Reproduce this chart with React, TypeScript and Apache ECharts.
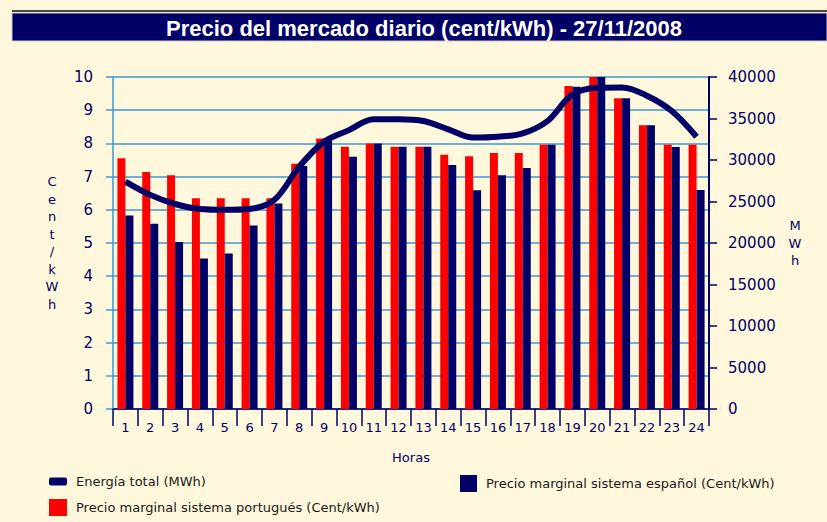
import React, { useEffect, useRef } from "react";
import * as echarts from "echarts";

const horas = ["1","2","3","4","5","6","7","8","9","10","11","12","13","14","15","16","17","18","19","20","21","22","23","24"];
const precioPortugues = [7.55, 7.14, 7.04, 6.35, 6.35, 6.35, 6.35, 7.39, 8.15, 7.9, 8.0, 7.9, 7.9, 7.66, 7.61, 7.71, 7.71, 7.96, 9.73, 10.0, 9.36, 8.55, 7.96, 7.96];
const precioEspanol = [5.83, 5.58, 5.03, 4.53, 4.68, 5.53, 6.19, 7.32, 8.15, 7.6, 8.0, 7.9, 7.9, 7.35, 6.59, 7.04, 7.26, 7.96, 9.71, 10.0, 9.36, 8.55, 7.89, 6.6];
const energiaTotal = [27400, 25800, 24700, 24100, 24000, 24100, 25200, 29200, 32200, 33600, 34900, 34900, 34700, 33700, 32700, 32800, 33200, 34700, 37900, 38700, 38750, 37750, 35900, 32800];

const TITLE = "Precio del mercado diario (cent/kWh) - 27/11/2008";
const NAME_ENERGIA = "Energía total (MWh)";
const NAME_ES = "Precio marginal sistema español (Cent/kWh)";
const NAME_PT = "Precio marginal sistema portugués (Cent/kWh)";

const NAVY = "#000066";
const RED = "#ff0000";
const BG = "#fff8dc";
const GRID = "#3a9ad6";
const FONT = "'DejaVu Sans', sans-serif";

export default function App() {
  const ref = useRef<HTMLDivElement>(null);
  useEffect(() => {
    document.body.style.margin = "0";
    document.body.style.background = BG;
    const chart = echarts.init(ref.current!, null, { renderer: "svg" });
    const legendText = { color: "#1a1a1a", fontFamily: FONT, fontSize: 13, padding: [0, 0, 0, 4] };
    chart.setOption({
      animation: false,
      backgroundColor: BG,
      graphic: [
        { type: "rect", shape: { x: 12, y: 10, width: 815, height: 2 }, style: { fill: "#4a4a40" } },
        { type: "rect", shape: { x: 12, y: 13, width: 815, height: 28 }, style: { fill: NAVY, stroke: "#c8c8d0", lineWidth: 1 } },
        {
          type: "text",
          x: 424,
          y: 28,
          style: {
            text: TITLE,
            fill: "#ffffff",
            font: "bold 22px 'Liberation Sans Narrow', 'Liberation Sans', sans-serif",
            textAlign: "center",
            textVerticalAlign: "middle",
          },
        },
      ],
      grid: { left: 113, right: 118, top: 77, bottom: 113 },
      legend: [
        { data: [NAME_ENERGIA], left: 44, top: 470, itemWidth: 18, itemHeight: 8, icon: "roundRect", textStyle: legendText, selectedMode: false },
        { data: [NAME_ES], left: 455, top: 470, itemWidth: 17, itemHeight: 17, icon: "rect", textStyle: legendText, selectedMode: false },
        { data: [NAME_PT], left: 44, top: 494, itemWidth: 18, itemHeight: 17, icon: "rect", textStyle: legendText, selectedMode: false },
      ],
      xAxis: {
        type: "category",
        data: horas,
        boundaryGap: true,
        name: "Horas",
        nameLocation: "middle",
        nameGap: 48,
        nameTextStyle: { color: NAVY, fontFamily: FONT, fontSize: 13, verticalAlign: "middle" },
        axisLine: { lineStyle: { color: NAVY, width: 1.5 } },
        axisTick: { show: true, length: 17, lineStyle: { color: NAVY, width: 1.5 } },
        axisLabel: { color: NAVY, fontFamily: FONT, fontSize: 13, margin: 12, interval: 0 },
        splitLine: { show: false },
      },
      yAxis: [
        {
          type: "value",
          min: 0,
          max: 10,
          interval: 1,
          name: "C\ne\nn\nt\n/\nk\nW\nh",
          nameLocation: "middle",
          nameRotate: 0,
          nameGap: 61,
          nameTextStyle: { color: NAVY, fontFamily: FONT, fontSize: 13, lineHeight: 17.5, align: "center", verticalAlign: "middle" },
          axisLine: { show: true, lineStyle: { color: GRID, width: 1.5 } },
          axisTick: { show: true, length: 7, lineStyle: { color: GRID, width: 1.5 } },
          axisLabel: { color: NAVY, fontFamily: FONT, fontSize: 15, margin: 20 },
          splitLine: { show: true, lineStyle: { color: GRID, width: 1.5 } },
        },
        {
          type: "value",
          min: 0,
          max: 40000,
          interval: 5000,
          position: "right",
          name: "M\nW\nh",
          nameLocation: "middle",
          nameRotate: 0,
          nameGap: 86,
          nameTextStyle: { color: NAVY, fontFamily: FONT, fontSize: 13, lineHeight: 17.5, align: "center", verticalAlign: "middle" },
          axisLine: { show: true, lineStyle: { color: NAVY, width: 2 } },
          axisTick: { show: true, length: 8, lineStyle: { color: NAVY, width: 1.5 } },
          axisLabel: { color: NAVY, fontFamily: FONT, fontSize: 15, margin: 19, formatter: (v: number) => String(v) },
          splitLine: { show: false },
        },
      ],
      series: [
        {
          name: NAME_PT,
          type: "bar",
          yAxisIndex: 0,
          data: precioPortugues,
          barWidth: 8,
          barGap: "0%",
          itemStyle: { color: RED },
        },
        {
          name: NAME_ES,
          type: "bar",
          yAxisIndex: 0,
          data: precioEspanol,
          barWidth: 8,
          barGap: "0%",
          itemStyle: { color: NAVY },
        },
        {
          name: NAME_ENERGIA,
          type: "line",
          yAxisIndex: 1,
          data: energiaTotal,
          smooth: 0.35,
          symbol: "none",
          lineStyle: { color: NAVY, width: 6 },
          itemStyle: { color: NAVY },
          z: 5,
        },
      ],
    });
    return () => chart.dispose();
  }, []);
  return (
    <div
      ref={ref}
      style={{ position: "absolute", left: 0, top: 0, width: 827, height: 522, background: BG }}
    />
  );
}
